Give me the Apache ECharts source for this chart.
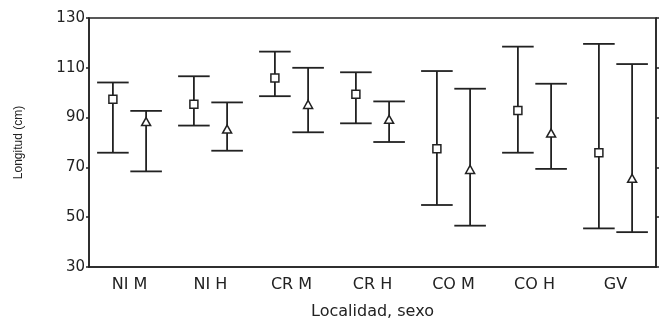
<!DOCTYPE html>
<html>
<head>
<meta charset="utf-8">
<script src="https://cdn.jsdelivr.net/npm/echarts@6/dist/echarts.min.js"></script>
<style>
  html, body { margin: 0; padding: 0; background: #fff; }
  #chart { width: 661px; height: 325px; }
</style>
</head>
<body>
<div id="chart"></div>
<script>
// categorias y valores
var categories = ['NI M', 'NI H', 'CR M', 'CR H', 'CO M', 'CO H', 'GV'];
var yTicks = [30, 50, 70, 90, 110, 130];

// serie cuadrado (primera de cada par)
var sqMean = [97.4, 95.4, 105.9, 99.4, 77.5, 92.9, 75.9];
var sqHigh = [104.1, 106.6, 116.5, 108.2, 108.7, 118.5, 119.6];
var sqLow  = [75.9, 86.8, 98.6, 87.7, 54.9, 75.9, 45.5];

// serie triangulo (segunda de cada par)
var trMean = [88.2, 85.2, 95.1, 89.1, 69.0, 83.6, 65.4];
var trHigh = [92.7, 96.1, 110.0, 96.5, 101.6, 103.6, 111.5];
var trLow  = [68.4, 76.7, 84.1, 80.2, 46.6, 69.4, 44.0];

var lineColor = '#222';

function buildData(low, high, mean) {
    var d = [];
    for (var i = 0; i < categories.length; i++) {
        d.push([i, low[i], high[i], mean[i]]);
    }
    return d;
}

// barra de error + marcador, desplazado dentro de la categoria
function makeRender(offsetFrac, marker) {
    return function (params, api) {
        var band = api.size([1, 0])[0];
        var cx = api.coord([api.value(0), 0])[0] + band * offsetFrac;
        var yLow = api.coord([api.value(0), api.value(1)])[1];
        var yHigh = api.coord([api.value(0), api.value(2)])[1];
        var yMean = api.coord([api.value(0), api.value(3)])[1];
        var cap = band * 0.195;
        var st = { stroke: lineColor, lineWidth: 1.8 };
        var children = [
            { type: 'line', shape: { x1: cx, y1: yLow, x2: cx, y2: yHigh }, style: st },
            { type: 'line', shape: { x1: cx - cap, y1: yHigh, x2: cx + cap, y2: yHigh }, style: st },
            { type: 'line', shape: { x1: cx - cap, y1: yLow, x2: cx + cap, y2: yLow }, style: st }
        ];
        if (marker === 'square') {
            children.push({ type: 'rect', shape: { x: cx - 4, y: yMean - 4, width: 8, height: 8 },
                style: { fill: '#fff', stroke: lineColor, lineWidth: 1.5 } });
        } else {
            children.push({ type: 'polygon', shape: { points: [[cx, yMean - 4.5], [cx + 4.5, yMean + 3.5], [cx - 4.5, yMean + 3.5]] },
                style: { fill: '#fff', stroke: lineColor, lineWidth: 1.5 } });
        }
        return { type: 'group', children: children };
    };
}

var myChart = echarts.init(document.getElementById('chart'));
var option = {
    backgroundColor: '#fff',
    animation: false,
    grid: {
        left: 89, right: 5, top: 18, bottom: 52,
        show: true, borderColor: lineColor, borderWidth: 1.5, backgroundColor: 'transparent'
    },
    xAxis: {
        type: 'category',
        data: categories,
        name: 'Localidad, sexo',
        nameLocation: 'middle',
        nameGap: 37,
        nameTextStyle: { fontFamily: 'DejaVu Sans', fontSize: 16, color: lineColor },
        axisLine: { lineStyle: { color: lineColor, width: 1.5 } },
        axisTick: { show: false },
        axisLabel: { fontFamily: 'DejaVu Sans', fontSize: 16, color: lineColor, margin: 10 },
        splitLine: { show: false }
    },
    yAxis: [{
        type: 'value',
        min: yTicks[0],
        max: yTicks[yTicks.length - 1],
        interval: 20,
        name: 'Longitud (cm)',
        nameLocation: 'middle',
        nameGap: 64,
        nameTextStyle: { fontFamily: 'Liberation Sans', fontSize: 12, color: lineColor },
        axisLine: { show: true, lineStyle: { color: lineColor, width: 1.5 } },
        axisTick: { show: true, length: 3, lineStyle: { color: lineColor, width: 1.5 } },
        axisLabel: { fontFamily: 'DejaVu Sans', fontSize: 15, color: lineColor, margin: 4 },
        splitLine: { show: false }
    }, {
        type: 'value',
        position: 'right',
        min: yTicks[0],
        max: yTicks[yTicks.length - 1],
        interval: 20,
        axisLine: { show: true, lineStyle: { color: lineColor, width: 1.5 } },
        axisTick: { show: true, length: 3, lineStyle: { color: lineColor, width: 1.5 } },
        axisLabel: { show: false },
        splitLine: { show: false }
    }],
    series: [{
        type: 'custom',
        renderItem: makeRender(-0.205, 'square'),
        encode: { x: 0, y: [1, 2, 3] },
        data: buildData(sqLow, sqHigh, sqMean)
    }, {
        type: 'custom',
        renderItem: makeRender(0.205, 'triangle'),
        encode: { x: 0, y: [1, 2, 3] },
        data: buildData(trLow, trHigh, trMean)
    }]
};
myChart.setOption(option);
</script>
</body>
</html>
